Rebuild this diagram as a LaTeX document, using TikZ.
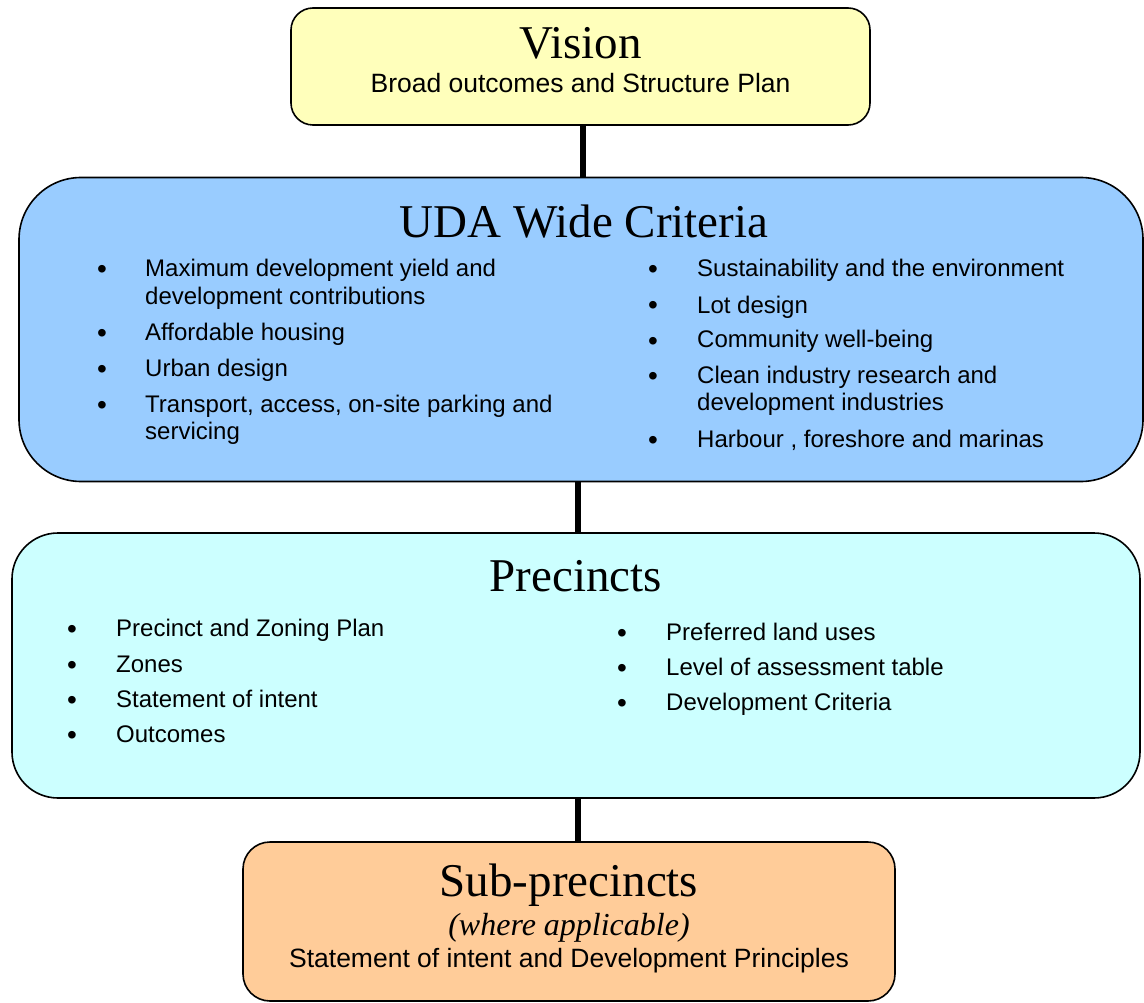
\documentclass[tikz,border=0pt]{standalone}
\usepackage{fontspec}
\setmainfont{Liberation Serif}
\newfontfamily\arialf{Liberation Sans}
\definecolor{visionfill}{RGB}{255,255,187}
\definecolor{udafill}{RGB}{153,204,255}
\definecolor{precfill}{RGB}{204,255,255}
\definecolor{subfill}{RGB}{255,204,153}
\newcommand\twolines[2]{\vtop{\hbox{#1}\hbox{#2}}}
\begin{document}
\begin{tikzpicture}[x=1pt,y=-1pt,
  box/.style={draw=black, line width=1.6pt, rounded corners=#1, inner sep=0pt},
  titletext/.style={font=\fontsize{47}{50}\selectfont, anchor=base, inner sep=0pt},
  subtext/.style={font=\arialf\fontsize{26.5}{30}\selectfont, anchor=base, inner sep=0pt},
  itemtext/.style={font=\arialf\fontsize{24}{27.5}\selectfont, anchor=base west, inner sep=0pt},
  dot/.style={font=\arialf\fontsize{28}{30}\selectfont, anchor=base, inner sep=0pt, yshift=-2pt},
  conn/.style={line width=6pt, black}]
\useasboundingbox (0,0) rectangle (1144,1003);

% boxes
\node[box=22pt, fill=visionfill, minimum width=579pt, minimum height=117pt] (vision) at (580.5,66.5) {};
\node[box=62pt, fill=udafill, minimum width=1124pt, minimum height=304pt] (uda) at (581,329.5) {};
\node[box=46pt, fill=precfill, minimum width=1128pt, minimum height=265pt] (prec) at (576,665.5) {};
\node[box=27pt, fill=subfill, minimum width=652pt, minimum height=159pt] (subp) at (569,921.5) {};

% connectors
\draw[conn] ([xshift=2.5pt]vision.south) -- ([xshift=2.5pt]vision.south |- uda.north);
\draw[conn] ([xshift=-3pt]uda.south) -- ([xshift=-3pt]uda.south |- prec.north);
\draw[conn] ([xshift=2pt]prec.south) -- ([xshift=2pt]prec.south |- subp.north);

% Vision
\node[titletext] (visiont) at (580.5,59) {Vision};
\node[subtext] (visions) at (580.5,93) {Broad outcomes and Structure Plan};

% UDA
\node[titletext] (udat) at (584,238) {UDA Wide Criteria};
\node[dot] (ub1) at (102,277) {•};
\node[itemtext] (ui1) at (145,277) {\twolines{Maximum development yield and}{development contributions}};
\node[dot] (ub2) at (102,340) {•};
\node[itemtext] (ui2) at (145,340) {Affordable housing};
\node[dot] (ub3) at (102,376) {•};
\node[itemtext] (ui3) at (145,376) {Urban design};
\node[dot] (ub4) at (102,412) {•};
\node[itemtext] (ui4) at (145,412) {\twolines{Transport, access, on-site parking and}{servicing}};

\node[dot] (ub5) at (653,277) {•};
\node[itemtext] (ui5) at (697,277) {Sustainability and the environment};
\node[dot] (ub6) at (653,313) {•};
\node[itemtext] (ui6) at (697,313) {Lot design};
\node[dot] (ub7) at (653,348) {•};
\node[itemtext] (ui7) at (697,348) {Community well-being};
\node[dot] (ub8) at (653,383) {•};
\node[itemtext] (ui8) at (697,383) {\twolines{Clean industry research and}{development industries}};
\node[dot] (ub9) at (653,447) {•};
\node[itemtext] (ui9) at (697,447) {Harbour , foreshore and marinas};

% Precincts
\node[titletext] (prect) at (576,591) {Precincts};
\node[dot] (pb1) at (72,636) {•};
\node[itemtext] (pi1) at (116,636) {Precinct and Zoning Plan};
\node[dot] (pb2) at (72,672) {•};
\node[itemtext] (pi2) at (116,672) {Zones};
\node[dot] (pb3) at (72,707) {•};
\node[itemtext] (pi3) at (116,707) {Statement of intent};
\node[dot] (pb4) at (72,742) {•};
\node[itemtext] (pi4) at (116,742) {Outcomes};

\node[dot] (pb5) at (622,640) {•};
\node[itemtext] (pi5) at (666,640) {Preferred land uses};
\node[dot] (pb6) at (622,675) {•};
\node[itemtext] (pi6) at (666,675) {Level of assessment table};
\node[dot] (pb7) at (622,710) {•};
\node[itemtext] (pi7) at (666,710) {Development Criteria};

% Sub-precincts
\node[titletext] (subt) at (569,896) {Sub-precincts};
\node[font=\fontsize{32}{34}\selectfont\itshape, anchor=base, inner sep=0pt] (subw) at (569,935) {(where applicable)};
\node[subtext] (subs) at (569,967) {Statement of intent and Development Principles};
\end{tikzpicture}
\end{document}
